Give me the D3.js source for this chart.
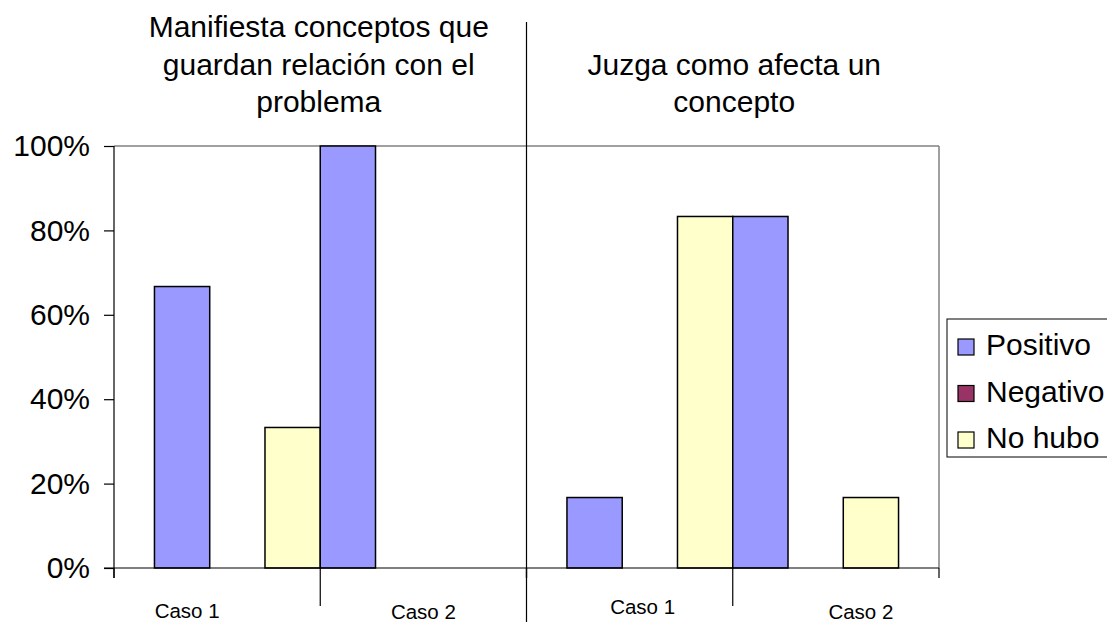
<!DOCTYPE html>
<html>
<head>
<meta charset="utf-8">
<script src="https://cdn.jsdelivr.net/npm/d3@7"></script>
<style>
  html, body { margin: 0; padding: 0; background: #fff; }
  svg { display: block; font-family: "Liberation Sans", Arial, sans-serif; }
</style>
</head>
<body>
<svg id="chart" width="1107" height="622"></svg>
<script>
// ---- data ----
const groupTitles = [
  ["Manifiesta conceptos que", "guardan relación con el", "problema"],
  ["Juzga como afecta un", "concepto"]
];
const categories = ["Caso 1", "Caso 2"];
const seriesNames = ["Positivo", "Negativo", "No hubo"];
// values per group: [Caso 1, Caso 2]
const positivo = [[0.667, 1.0], [0.167, 0.833]];
const negativo = [[0, 0], [0, 0]];
const noHubo   = [[0.333, 0], [0.833, 0.167]];
const yTicks = [0, 0.2, 0.4, 0.6, 0.8, 1.0];
const colors = ["#9999FF", "#993366", "#FFFFCC"];

// ---- layout ----
const svg = d3.select("#chart");
const W = 1107, H = 622;
const plotLeft = 114, plotRight = 939, plotTop = 146, plotBottom = 568;
const splitX = 526.5;
const font = 30;

const y = d3.scaleLinear().domain([0, 1]).range([plotBottom, plotTop]);
const halves = d3.scaleBand().domain([0, 1]).range([plotLeft, plotRight]);
const seriesVals = [positivo, negativo, noHubo];

// plot border (gray top and right)
svg.append("line").attr("x1", plotLeft).attr("x2", plotRight)
  .attr("y1", plotTop).attr("y2", plotTop).attr("stroke", "#808080").attr("stroke-width", 1.5);
svg.append("line").attr("x1", plotRight).attr("x2", plotRight)
  .attr("y1", plotTop).attr("y2", plotBottom).attr("stroke", "#808080").attr("stroke-width", 1.5);

const labelNudge = [[-30, 0], [13, 25]];
const labelBase = [[618, 619], [614, 619]];

[0, 1].forEach(g => {
  const x0 = halves(g), x1 = x0 + halves.bandwidth();
  const band = d3.scaleBand().domain(categories).range([x0, x1])
    .paddingInner(0).paddingOuter(0.244);
  const sub = d3.scaleBand().domain(seriesNames).range([0, band.bandwidth()]).padding(0);
  const bnd = d3.scaleLinear().domain([0, 2]).range([x0, x1]);

  categories.forEach((c, ci) => {
    seriesNames.forEach((s, si) => {
      const v = seriesVals[si][g][ci];
      if (v <= 0) return;
      svg.append("rect")
        .attr("x", band(c) + sub(s))
        .attr("y", y(v))
        .attr("width", sub.bandwidth())
        .attr("height", y(0) - y(v))
        .attr("fill", colors[si])
        .attr("stroke", "#000").attr("stroke-width", 1.5);
    });
    // category label
    svg.append("text")
      .attr("x", (bnd(ci) + bnd(ci + 1)) / 2 + labelNudge[g][ci])
      .attr("y", labelBase[g][ci])
      .attr("text-anchor", "middle")
      .attr("font-size", 20.5)
      .text(c);
  });

  // category tick marks
  [0, 1, 2].forEach(k => {
    const long = k === 1;
    svg.append("line").attr("x1", bnd(k)).attr("x2", bnd(k))
      .attr("y1", plotBottom).attr("y2", long ? 606 : 578)
      .attr("stroke", "#000").attr("stroke-width", 1.2);
  });

  // titles
  const tl = groupTitles[g];
  const cx = (x0 + x1) / 2 + (g === 0 ? -1.5 : 1.5);
  tl.forEach((line, li) => {
    svg.append("text")
      .attr("x", cx)
      .attr("y", 112 - (tl.length - 1 - li) * 37.5)
      .attr("text-anchor", "middle")
      .attr("font-size", font)
      .text(line);
  });
});

// y axis
const yAxis = d3.axisLeft(y).tickValues(yTicks).tickSize(10).tickPadding(14)
  .tickFormat(d3.format(".0%"));
const ya = svg.append("g").attr("transform", `translate(${plotLeft},0)`).call(yAxis);
ya.select(".domain").remove();
ya.selectAll(".tick line").attr("stroke", "#000").attr("stroke-width", 1.2);
ya.selectAll(".tick text").attr("font-size", font).attr("fill", "#000")
  .attr("font-family", "Liberation Sans, Arial, sans-serif");
svg.append("line").attr("x1", plotLeft).attr("x2", plotLeft)
  .attr("y1", plotTop).attr("y2", 578).attr("stroke", "#000").attr("stroke-width", 1.2);
// x axis baseline
svg.append("line").attr("x1", plotLeft - 10).attr("x2", plotRight)
  .attr("y1", plotBottom).attr("y2", plotBottom).attr("stroke", "#000").attr("stroke-width", 1.2);

// separator between groups
svg.append("line").attr("x1", splitX).attr("x2", splitX)
  .attr("y1", 22).attr("y2", H).attr("stroke", "#000").attr("stroke-width", 1.2);

// legend
const lg = svg.append("g");
lg.append("rect").attr("x", 947).attr("y", 319).attr("width", 170).attr("height", 138)
  .attr("fill", "#fff").attr("stroke", "#000").attr("stroke-width", 1);
const legRow = d3.scalePoint().domain(seriesNames).range([355, 448]);
seriesNames.forEach((s, i) => {
  lg.append("rect").attr("x", 958).attr("y", legRow(s) - 16).attr("width", 16).attr("height", 16)
    .attr("fill", colors[i]).attr("stroke", "#000").attr("stroke-width", 1.2);
  lg.append("text").attr("x", 986).attr("y", legRow(s))
    .attr("font-size", font).text(s);
});
</script>
</body>
</html>
